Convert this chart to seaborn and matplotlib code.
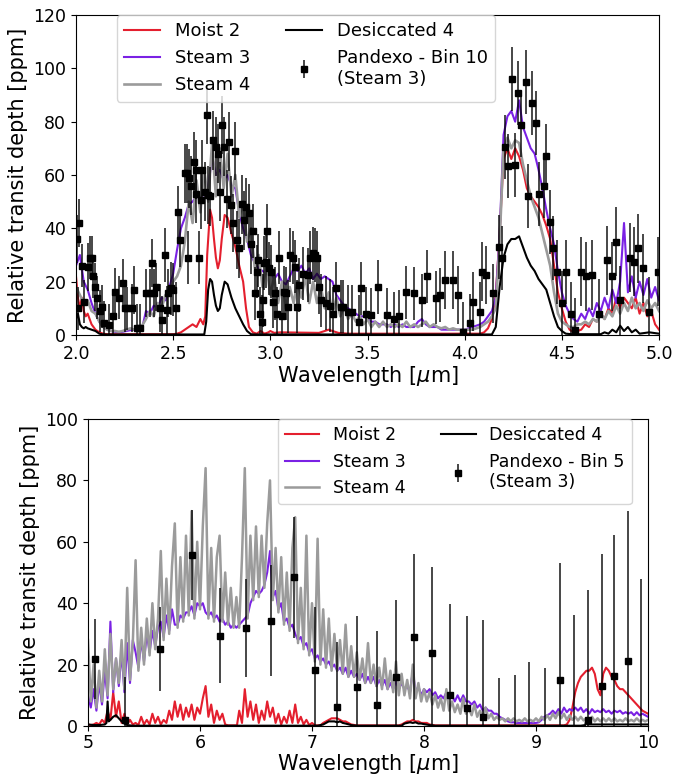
import numpy as np
import matplotlib
matplotlib.use("Agg")
import matplotlib.pyplot as plt
import seaborn as sns

# ---------------- NIRSpec range (2-5 um) ----------------
wl_top = np.round(np.linspace(2.0, 5.0, 151), 3)

steam3_top = [
    26, 30, 20, 17, 12, 8, 5, 3, 2, 1.5,
    1.2, 1.0, 1.2, 1.5, 1.8, 2, 2, 2.5, 9, 8,
    11, 10, 14, 13, 18, 23, 32, 40, 44, 49,
    50, 52, 51, 53, 55, 67, 60, 62, 58, 60,
    56, 55, 46, 40, 36, 30, 27, 25, 24, 23,
    24, 21, 23, 20, 19, 22, 25, 24, 26, 23,
    25, 21, 23, 21, 22, 21, 20, 15, 13, 11,
    10, 9, 8, 7, 7, 6, 5, 5, 4, 4,
    4, 3, 4, 3, 4, 3, 3, 3, 5, 6,
    4, 3, 3, 3, 2, 2, 2, 2, 2, 2,
    2, 2.5, 3, 3.5, 4, 5, 7, 9, 14, 38,
    75, 82, 84, 80, 88, 78, 74, 70, 68, 62,
    55, 47, 40, 34, 24, 16, 11, 8, 6, 5,
    8, 6, 10, 7, 12, 9, 14, 10, 17, 12,
    20, 42, 16, 22, 14, 20, 15, 21, 14, 18,
    13,
]

steam4_top = [
    18, 15, 12, 13, 9, 8, 5, 3, 2, 1.5,
    1.5, 1.2, 1.5, 2, 2.5, 2, 3, 3.5, 6, 9,
    7, 12, 10, 15, 16, 20, 22, 26, 35, 50,
    42, 58, 46, 62, 50, 72, 52, 70, 55, 68,
    52, 60, 44, 50, 35, 40, 25, 30, 18, 26,
    15, 22, 12, 20, 10, 18, 12, 20, 14, 22,
    12, 20, 12, 18, 10, 16, 8, 14, 7, 11,
    6, 8, 5, 7, 4, 6, 3, 5, 3, 5,
    3, 4, 3, 4, 3, 5, 3, 4, 3, 4,
    5, 3, 4, 3, 2.5, 3, 2, 2.5, 2, 2,
    2, 2, 2, 2.5, 3, 4, 5, 7, 10, 35,
    70, 74, 70, 73, 72, 64, 58, 52, 48, 44,
    38, 32, 26, 16, 8, 5, 4, 3, 3, 4,
    4, 5, 4, 6, 5, 8, 6, 9, 7, 11,
    8, 12, 9, 14, 10, 12, 9, 13, 10, 12,
    9,
]

moist2_top_wl = [
    2.00, 2.01, 2.02, 2.03, 2.04, 2.05, 2.06, 2.08, 2.10, 2.12, 2.14, 2.16,
    2.50, 2.52, 2.54, 2.56, 2.58, 2.60, 2.62, 2.64, 2.655, 2.665, 2.675,
    2.69, 2.70, 2.71, 2.72, 2.73, 2.74, 2.75, 2.765, 2.78, 2.80, 2.82,
    2.84, 2.86, 2.875, 2.89, 2.91, 2.93, 2.95, 2.97, 2.99, 3.00, 3.02,
    3.05, 3.25, 3.28, 3.30, 3.32, 3.35, 3.40, 4.08, 4.10, 4.12, 4.14,
    4.16, 4.18, 4.20, 4.22, 4.24, 4.26, 4.28, 4.30, 4.32, 4.34, 4.36,
    4.38, 4.40, 4.42, 4.44, 4.46, 4.48, 4.50, 4.52, 4.54, 4.56, 4.58,
    4.60, 4.62, 4.64, 4.66, 4.68, 4.70, 4.72, 4.74, 4.76, 4.78, 4.80,
    4.82, 4.84, 4.86, 4.88, 4.90, 4.92, 4.94, 4.96, 4.98, 5.00,
]
moist2_top = [
    22, 14, 10, 14, 9, 7, 8, 4, 2, 1, 0.5, 0.3,
    0.3, 0.5, 1, 2, 3, 4, 3, 6, 4, 7, 30,
    47, 44, 36, 29, 25, 28, 36, 45, 44, 38, 33,
    26, 20, 10, 3, 1, 0.5, 1.5, 0.5, 1, 1.5, 0.8,
    1, 0.8, 1.5, 2, 1.5, 0.8, 0.5, 0.5, 1, 2.5, 6,
    15, 38, 66, 70, 66, 70, 67, 62, 55, 52, 50,
    48, 45, 41, 36, 26, 16, 10, 5, 2, 1, 1.5,
    2, 4, 3, 6, 5, 8, 6, 10, 8, 14, 10,
    14, 12, 10, 14, 8, 12, 7, 9, 4, 2,
]

desic4_top_wl = [
    2.00, 2.01, 2.02, 2.03, 2.04, 2.05, 2.06, 2.08, 2.10, 2.12, 2.14,
    2.66, 2.67, 2.68, 2.69, 2.70, 2.71, 2.72, 2.73, 2.74, 2.75, 2.765,
    2.78, 2.80, 2.82, 2.84, 2.86, 2.88, 2.90, 2.92, 4.14, 4.16, 4.18,
    4.20, 4.22, 4.24, 4.26, 4.28, 4.30, 4.32, 4.34, 4.36, 4.38, 4.40,
    4.42, 4.44, 4.46, 4.48, 4.50, 4.52, 4.55, 4.70, 4.72, 4.74, 4.76,
    4.78, 4.80, 4.82, 4.84, 4.86, 4.88, 4.90, 4.95, 5.00,
]
desic4_top = [
    6, 8, 4, 3, 2.5, 3, 2.5, 2, 1.5, 0.5, 0.2,
    0.2, 5, 17, 21, 20, 15, 11, 9, 10, 15, 20,
    19, 14, 10, 7, 4, 1.5, 0.3, 0.2, 0.2, 3, 18,
    29, 34, 36, 36, 37, 33, 29, 26, 24, 21, 19,
    17, 12, 7, 3, 1.5, 0.5, 0.3, 0.3, 1, 0.5, 2,
    1, 3.5, 1.5, 3, 1, 2, 0.5, 1, 0.5,
]

# Pandexo simulated observation, bin 10 (Steam 3)
pdx10_wl = [
    2.005, 2.010, 2.016, 2.030, 2.040, 2.060, 2.070, 2.080, 2.090, 2.100,
    2.110, 2.125, 2.135, 2.145, 2.170, 2.190, 2.200, 2.220, 2.240, 2.250,
    2.265, 2.290, 2.300, 2.315, 2.330, 2.360, 2.380, 2.390, 2.400, 2.410,
    2.430, 2.445, 2.457, 2.470, 2.475, 2.490, 2.500, 2.515, 2.525, 2.537,
    2.560, 2.570, 2.578, 2.580, 2.590, 2.605, 2.615, 2.620, 2.635, 2.644,
    2.650, 2.662, 2.673, 2.680, 2.690, 2.707, 2.720, 2.730, 2.740, 2.750,
    2.763, 2.775, 2.786, 2.800, 2.810, 2.820, 2.830, 2.840, 2.854, 2.866,
    2.877, 2.888, 2.900, 2.910, 2.922, 2.930, 2.934, 2.945, 2.956, 2.963,
    2.967, 2.980, 2.985, 2.995, 3.006, 3.013, 3.024, 3.035, 3.047, 3.058,
    3.070, 3.080, 3.090, 3.100, 3.115, 3.126, 3.137, 3.150, 3.167, 3.194,
    3.205, 3.217, 3.228, 3.240, 3.250, 3.262, 3.285, 3.307, 3.320, 3.340,
    3.364, 3.375, 3.400, 3.420, 3.455, 3.466, 3.490, 3.520, 3.556, 3.600,
    3.636, 3.660, 3.700, 3.738, 3.780, 3.806, 3.850, 3.874, 3.900, 3.940,
    3.964, 3.990, 4.030, 4.044, 4.080, 4.090, 4.110, 4.146, 4.175, 4.190,
    4.207, 4.225, 4.243, 4.260, 4.277, 4.290, 4.314, 4.327, 4.345, 4.367,
    4.383, 4.406, 4.420, 4.440, 4.457, 4.474, 4.500, 4.520, 4.545, 4.567,
    4.600, 4.623, 4.657, 4.690, 4.730, 4.757, 4.780, 4.800, 4.850, 4.870,
    4.894, 4.917, 4.950, 4.996,
]
pdx10_depth = [
    36, 10, 42, 26, 12.5, 25.6, 29, 29, 22, 18,
    14, 9, 10.6, 4.6, 3.75, 7, 16, 14, 19.6, 10,
    10, 10, 17, 2.5, 2.5, 15.6, 15.6, 27, 15.6, 18,
    10, 5.6, 30, 9.4, 15.6, 17.5, 17, 10, 46, 35.6,
    60.6, 60.6, 29, 58.75, 56, 65, 62, 53, 29, 50.6,
    62, 53.75, 82.5, 52.5, 52, 73, 70.6, 68, 53.75, 78.75,
    70.6, 51, 72.5, 48.75, 42, 69, 35.6, 32.5, 49, 43,
    48, 45.6, 34, 39, 15.6, 23.75, 28, 8, 5, 13,
    27, 27.5, 39, 25, 23.75, 12.5, 15.6, 8, 29, 7,
    16, 15.6, 10.6, 30, 29, 25.6, 10.6, 18.75, 23, 22.5,
    29, 30.6, 30, 29, 18, 13, 12, 11, 8, 17.5,
    10.6, 10.6, 8.75, 8.75, 5, 17.5, 8, 7.5, 18, 7.5,
    6, 7, 16, 15.6, 13, 22, 14, 15, 20.6, 20.6,
    15, 1.25, 4.4, 12.5, 8.75, 23.75, 22.5, 15.6, 33, 28.75,
    70.6, 63.5, 96, 63.75, 90.6, 78.75, 95, 52, 87, 79.4,
    53, 56, 67, 42.5, 32.5, 23.75, 12, 23.75, 8, 2,
    23.75, 22, 22.5, 8, 28, 22, 35, 13, 29, 27.5,
    32.5, 25, 8.75, 23.75,
]
pdx10_err = [
    9, 8, 9, 8, 8, 9, 8, 8, 8, 9,
    8, 8, 8, 8, 8, 8, 9, 8, 9, 9,
    8, 9, 9, 9, 9, 9, 9, 9, 9, 9,
    9, 9, 10, 9, 9, 10, 10, 10, 10, 10,
    11, 11, 10, 11, 11, 11, 11, 11, 10, 11,
    11, 11, 11, 11, 11, 11, 11, 11, 11, 11,
    11, 11, 11, 11, 11, 11, 11, 11, 11, 11,
    11, 11, 11, 10, 10, 10, 10, 10, 10, 10,
    10, 10, 10, 10, 10, 10, 10, 10, 10, 10,
    10, 10, 10, 10, 10, 10, 10, 10, 10, 10,
    10, 10, 10, 10, 10, 10, 10, 10, 10, 10,
    10, 10, 10, 10, 10, 10, 10, 10, 10, 10,
    10, 10, 10, 10, 10, 10, 10, 10, 11, 11,
    11, 11, 11, 11, 11, 11, 11, 11, 12, 12,
    12, 12, 12, 12, 12, 12, 12, 12, 12, 12,
    12, 12, 12, 12, 12, 12, 12, 12, 12, 12,
    13, 13, 13, 13, 13, 13, 13, 13, 13, 13,
    13, 13, 13, 13,
]

# ---------------- MIRI range (5-10 um) ----------------
wl_bot = np.round(np.linspace(5.0, 10.0, 201), 3)

steam4_bot = [
    28, 8, 20, 6, 18, 8, 25, 10,
    30, 12, 22, 14, 28, 12, 45, 15,
    27, 54, 18, 32, 20, 35, 23, 40,
    25, 35, 57, 28, 48, 30, 52, 66,
    32, 55, 34, 62, 36, 70, 35, 60,
    38, 65, 84, 35, 58, 34, 55, 62,
    34, 50, 33, 45, 32, 42, 32, 55,
    84, 35, 62, 41, 65, 42, 62, 45,
    66, 80, 41, 58, 37, 55, 33, 50,
    31, 58, 68, 27, 45, 25, 62, 23,
    40, 21, 61, 20, 38, 19, 35, 18,
    30, 18, 28, 17, 33, 16, 26, 16,
    24, 15, 22, 14, 27, 14, 20, 13,
    19, 12, 22, 12, 18, 11, 21, 10,
    17, 10, 15, 9, 20, 9, 14, 8,
    12, 8, 11, 7, 10, 6, 9, 5,
    12, 5, 8, 4.5, 7, 4, 9, 4,
    6, 3.5, 7, 3, 5, 3, 6, 2.5,
    4, 2, 3, 2, 2.5, 1.5, 2.5, 1.5,
    2.5, 1.5, 2, 1.5, 2.5, 1.5, 2, 1.5,
    2.5, 1.5, 3, 2, 3.5, 2, 4, 2.5,
    4.5, 2.5, 4, 2, 3.5, 2, 3, 1.8,
    3, 1.8, 2.5, 1.5, 3, 1.5, 2.5, 1.5,
    2.5, 1.5, 2.5, 1.5, 2.5, 1.5, 2, 1.5,
    2.5, 1.5, 2, 1.5, 2.5, 1.5, 2, 1.5,
    2,
]

steam3_bot = [
    10, 6, 12, 5, 14, 7, 18, 9,
    34, 11, 22, 13, 24, 11, 27, 14,
    28, 24, 19, 28, 21, 30, 24, 31,
    26, 32, 34, 29, 36, 31, 38, 33,
    33, 36, 35, 37, 37, 39, 36, 40,
    39, 40, 37, 36, 37, 35, 36, 34,
    35, 33, 34, 32, 33, 32, 33, 34,
    35, 36, 40, 42, 44, 43, 44, 46,
    50, 57, 42, 44, 38, 40, 34, 35,
    32, 33, 30, 28, 29, 26, 27, 24,
    25, 22, 23, 21, 22, 20, 21, 19,
    20, 18, 19, 17, 19, 16, 18, 16,
    17, 15, 17, 14, 16, 14, 16, 13,
    15, 13, 15, 12, 14, 12, 15, 12,
    14, 12, 13, 11, 18, 11, 13, 10,
    12, 11, 12, 10, 11, 9, 10, 9,
    11, 9, 10, 8, 10, 8, 10, 8,
    8, 7, 8, 6, 7, 5, 6, 5,
    5, 4, 4, 3, 2.5, 2, 1.5, 1.2,
    1.2, 1, 1, 1, 1, 1, 1, 1,
    1, 1.2, 2, 3, 3.5, 4, 5, 4,
    5.5, 4, 6, 4.5, 5.5, 5, 6, 5,
    6, 4.5, 5.5, 4, 5.5, 4.5, 5, 4.5,
    5.5, 4.5, 5, 4, 5, 4.5, 5, 4,
    4.5, 4, 4.5, 3.5, 4.5, 3.5, 4, 3.5,
    3,
]

moist2_bot_wl = [
    5.000, 5.025, 5.050, 5.075, 5.100, 5.125, 5.150, 5.175, 5.200, 5.225,
    5.250, 5.275, 5.300, 5.325, 5.350, 5.375, 5.400, 5.425, 5.450, 5.475,
    5.500, 5.525, 5.550, 5.575, 5.600, 5.625, 5.650, 5.675, 5.700, 5.725,
    5.750, 5.775, 5.800, 5.825, 5.850, 5.875, 5.900, 5.925, 5.950, 5.975,
    6.000, 6.025, 6.050, 6.075, 6.100, 6.125, 6.150, 6.175, 6.200, 6.225,
    6.250, 6.330, 6.350, 6.375, 6.400, 6.425, 6.450, 6.475, 6.500, 6.525,
    6.550, 6.575, 6.600, 6.625, 6.650, 6.675, 6.700, 6.725, 6.750, 6.775,
    6.800, 6.825, 6.850, 6.875, 6.900, 6.925, 6.950, 6.975, 7.000, 7.025,
    7.075, 7.100, 7.125, 7.150, 7.175, 7.200, 7.225, 7.250, 7.275, 7.300,
    7.325, 7.350, 7.400, 7.775, 7.800, 7.825, 7.850, 7.875, 7.900, 7.925,
    7.950, 7.975, 8.000, 8.025, 8.050, 8.100, 9.250, 9.275, 9.300, 9.325,
    9.350, 9.375, 9.400, 9.425, 9.450, 9.475, 9.500, 9.525, 9.550, 9.575,
    9.600, 9.625, 9.650, 9.675, 9.700, 9.725, 9.750, 9.775, 9.800, 9.825,
    9.850, 9.875, 9.900, 9.925, 9.950, 9.975, 10.000,
]
moist2_bot = [
    0.5, 0.3, 0.5, 1, 0.5, 2, 1, 5, 2, 11,
    3, 8, 1, 4, 0.5, 2, 0.5, 1, 0.3, 3,
    0.5, 2, 0.5, 4, 1, 3, 0.5, 2, 1, 5,
    2, 8, 3, 7, 2, 6, 3, 7, 2, 6,
    4, 9, 13, 3, 7, 1, 5, 2, 4, 0.5,
    0.2, 0.2, 5, 1, 12, 3, 8, 2, 7, 1,
    5, 2, 8, 3, 6, 1, 4, 0.5, 3, 1,
    5, 1, 7, 1, 3, 0.5, 2, 0.3, 1, 0.2,
    0.2, 1, 1.5, 2, 2.5, 2.5, 2.5, 2, 1.5, 1.5,
    1, 0.5, 0.2, 0.2, 0.5, 1, 1.5, 1.5, 2, 1.5,
    1.5, 1, 1, 1, 0.5, 0.2, 0.2, 0.5, 2, 6,
    11, 14, 16, 17, 18, 18, 19, 17, 12, 10,
    17, 19, 18, 16, 15, 13, 12, 12, 11, 10,
    9, 8, 7, 6, 5, 4.5, 4,
]

desic4_bot_wl = [
    5.0, 5.05, 5.1, 5.15, 5.165, 5.175, 5.185, 5.2, 5.225, 5.25,
    5.275, 5.3, 5.325, 5.35, 5.4, 7.05, 7.1, 7.125, 7.15, 7.175,
    7.2, 7.225, 7.25, 7.275, 7.3, 7.35, 7.4, 7.8, 7.825, 7.85,
    7.875, 7.9, 7.925, 7.95, 7.975, 8.0, 8.05, 8.1, 9.4, 9.44,
    9.45, 9.46, 9.5, 10.0,
]
desic4_bot = [
    0.5, 0.3, 0.3, 0.5, 1, 8, 1.5, 2, 3, 3.5,
    2.5, 1.5, 0.8, 0.3, 0.1, 0.1, 0.5, 1, 1.5, 1.5,
    1.5, 1.2, 1.5, 1, 0.8, 0.3, 0.1, 0.1, 0.8, 1,
    1.2, 1, 1.2, 0.8, 0.8, 0.6, 0.3, 0.1, 0.1, 0.3,
    2, 0.5, 0.5, 0.5,
]

# Pandexo simulated observation, bin 5 (Steam 3)
pdx5_wl = [5.06, 5.33, 5.64, 5.925, 6.18, 6.41, 6.63, 6.84, 7.03, 7.22,
           7.40, 7.58, 7.75, 7.91, 8.07, 8.23, 8.38, 8.53, 8.67, 8.81,
           8.94, 9.08, 9.21, 9.34, 9.46, 9.585, 9.70, 9.82, 9.94]
pdx5_depth = [21.7, 2, 25, 55.8, 29.4, 32, 34.3, 48.4, 18.4, 6.2,
              12.7, 7, 16, 29, 23.8, 10.2, 5.9, 2.9, -17, -17,
              -14, -17, 15.1, -3, 1.85, 13, 16.2, 21.1, -3]
pdx5_err = [13, 14, 13.6, 14.7, 15.4, 16, 18, 19.7, 20.5, 21,
            23, 24, 25, 27, 28, 29.4, 30, 31.6, 32.5, 33.5,
            35, 36, 38, 39, 42.6, 43, 46, 49, 51]

# ---------------- styling ----------------
C_MOIST = "#e41f2e"
C_STEAM3 = "#7a21e4"
C_STEAM4 = "#9b9b9b"
C_DESIC = "black"
LW = 1.5
TICK_FS = 12.5
LABEL_FS = 15

fig = plt.figure(figsize=(6.91, 7.76), dpi=100)
ax1 = fig.add_axes([76 / 691, 1 - 335 / 776, 583 / 691, 320 / 776])
ax2 = fig.add_axes([88 / 691, 1 - 726 / 776, 560 / 691, 307 / 776])


def draw_panel(ax, wl_grid, s3, s4, m_wl, m, d_wl, d, p_wl, p, p_err,
               pdx_label, gray_lw):
    sns.lineplot(x=m_wl, y=m, ax=ax, color=C_MOIST, lw=LW, label="Moist 2",
                 estimator=None, sort=False)
    sns.lineplot(x=wl_grid, y=s3, ax=ax, color=C_STEAM3, lw=LW, label="Steam 3",
                 estimator=None, sort=False)
    sns.lineplot(x=wl_grid, y=s4, ax=ax, color=C_STEAM4, lw=gray_lw,
                 label="Steam 4", estimator=None, sort=False)
    sns.lineplot(x=d_wl, y=d, ax=ax, color=C_DESIC, lw=LW, label="Desiccated 4",
                 estimator=None, sort=False)
    ax.errorbar(p_wl, p, yerr=p_err, fmt="s", color="black", ms=4,
                ecolor=(0, 0, 0, 0.72), elinewidth=1.4, capsize=0,
                label=pdx_label, zorder=5)
    ax.set_ylabel("Relative transit depth [ppm]", fontsize=LABEL_FS)
    ax.tick_params(labelsize=TICK_FS)


draw_panel(ax1, wl_top, steam3_top, steam4_top, moist2_top_wl, moist2_top,
           desic4_top_wl, desic4_top, pdx10_wl, pdx10_depth, pdx10_err,
           "Pandexo - Bin 10\n(Steam 3)", 1.9)
ax1.set_xlabel(r"Wavelength [$\mu$m]", fontsize=LABEL_FS, labelpad=1)
ax1.set_xlim(2.0, 5.0)
ax1.set_ylim(0, 120)
ax1.set_xticks([2.0, 2.5, 3.0, 3.5, 4.0, 4.5, 5.0])
ax1.set_yticks(range(0, 121, 20))
ax1.legend(ncol=2, fontsize=13, loc="upper left",
           bbox_to_anchor=(0.070, 1.0), borderaxespad=0.0)

draw_panel(ax2, wl_bot, steam3_bot, steam4_bot, moist2_bot_wl, moist2_bot,
           desic4_bot_wl, desic4_bot, pdx5_wl, pdx5_depth, pdx5_err,
           "Pandexo - Bin 5\n(Steam 3)", 1.8)
ax2.tick_params(axis="x", pad=2.5)
ax2.set_xlabel(r"Wavelength [$\mu$m]", fontsize=LABEL_FS, labelpad=0)
ax2.set_xlim(5, 10)
ax2.set_ylim(0, 100)
ax2.set_xticks(range(5, 11))
ax2.set_yticks(range(0, 101, 20))
ax2.legend(ncol=2, fontsize=12.5, loc="upper right",
           bbox_to_anchor=(0.971, 1.0), borderaxespad=0.0)

fig.savefig("out.png", dpi=100)
